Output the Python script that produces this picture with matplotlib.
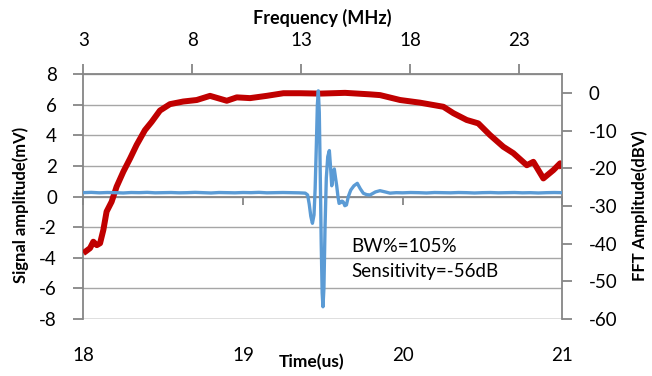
import numpy as np
import matplotlib
matplotlib.use('Agg')
import matplotlib.pyplot as plt

plt.rcParams['font.family'] = ['Lato', 'DejaVu Sans']

# time signal (us, mV)
time_us = [18.00, 18.05, 18.10, 18.15, 18.20, 18.25, 18.30, 18.35, 18.40, 18.45,
           18.50, 18.55, 18.60, 18.65, 18.70, 18.75, 18.80, 18.85, 18.90, 18.95,
           19.00, 19.05, 19.10, 19.15, 19.20, 19.25, 19.30, 19.35, 19.39, 19.405,
           19.415, 19.425, 19.435, 19.445, 19.452, 19.460, 19.466, 19.472, 19.478, 19.484,
           19.490, 19.496, 19.501, 19.507, 19.514, 19.522, 19.531, 19.541, 19.548, 19.556,
           19.564, 19.572, 19.580, 19.587, 19.595, 19.602, 19.612, 19.620, 19.628, 19.638,
           19.648, 19.660, 19.675, 19.695, 19.716, 19.735, 19.754, 19.775, 19.796, 19.830,
           19.858, 19.890, 19.921, 19.96, 20.00, 20.05, 20.10, 20.15, 20.20, 20.25,
           20.30, 20.35, 20.40, 20.45, 20.50, 20.55, 20.60, 20.65, 20.70, 20.75,
           20.80, 20.85, 20.90, 20.95, 21.00]
signal_mv = [0.25, 0.27, 0.24, 0.26, 0.25, 0.23, 0.26, 0.25, 0.27, 0.24,
             0.25, 0.26, 0.24, 0.25, 0.27, 0.25, 0.23, 0.26, 0.25, 0.24,
             0.26, 0.25, 0.27, 0.24, 0.25, 0.26, 0.25, 0.24, 0.22, 0.10,
             -0.50, -1.30, -1.75, -1.20, 0.50, 3.50, 6.00, 6.90, 5.50, 1.50,
             -3.00, -6.30, -7.20, -6.00, -2.00, 1.20, 2.60, 3.00, 2.00, 0.70,
             1.30, 1.80, 1.20, 0.70, 0.00, -0.45, -0.40, -0.30, -0.35, -0.60,
             -0.55, 0.00, 0.42, 0.70, 0.86, 0.50, 0.21, 0.12, 0.10, 0.30,
             0.38, 0.30, 0.22, 0.25, 0.24, 0.26, 0.25, 0.23, 0.26, 0.25,
             0.24, 0.26, 0.25, 0.23, 0.25, 0.26, 0.24, 0.25, 0.26, 0.24,
             0.25, 0.23, 0.25, 0.26, 0.25]

# FFT spectrum (MHz, dBV)
freq_mhz = [3.00, 3.08, 3.31, 3.46, 3.62, 3.77, 3.92, 4.07, 4.30, 4.53,
            4.84, 5.15, 5.45, 5.83, 6.14, 6.52, 6.98, 7.59, 8.21, 8.82,
            9.59, 10.05, 10.66, 11.42, 12.19, 12.95, 13.87, 15.02, 16.17, 16.63,
            17.55, 18.46, 19.54, 20.00, 20.61, 21.14, 21.68, 22.29, 22.75, 23.37,
            23.67, 24.13, 24.59, 24.90, 25.00]
fft_dbv = [-42.5, -42.2, -41.2, -39.5, -40.4, -39.9, -36.4, -31.5, -28.9, -24.9,
           -20.9, -17.4, -13.8, -9.9, -7.7, -4.7, -3.0, -2.3, -1.9, -0.8,
           -2.1, -1.2, -1.4, -0.8, -0.1, -0.1, -0.2, 0.0, -0.4, -0.6,
           -1.9, -2.6, -3.7, -5.4, -7.2, -8.1, -11.2, -14.3, -16.0, -19.2,
           -18.3, -22.7, -20.5, -18.7, -20.0]

left_ticks = [-8, -6, -4, -2, 0, 2, 4, 6, 8]
right_ticks = [-60, -50, -40, -30, -20, -10, 0]
bottom_ticks = [18, 19, 20, 21]
top_ticks = [3, 8, 13, 18, 23]

blue = '#5B9BD5'
red = '#C00000'
axis_gray = '#868686'
grid_gray = '#A6A6A6'

fig = plt.figure(figsize=(6.52, 3.76), dpi=100)
rect = [83.3/652, 1 - 319/376, (562.3 - 83.3)/652, (319 - 74)/376]

# base axes: time / mV, grid and spines
ax = fig.add_axes(rect)
ax.set_xlim(18, 21)
ax.set_ylim(-8, 8)
ax.set_yticks(left_ticks)
ax.set_yticklabels([str(v) for v in left_ticks])
ax.yaxis.grid(True, color=grid_gray, linewidth=1.0)
ax.set_axisbelow(True)
for s in ['top', 'right']:
    ax.spines[s].set_visible(False)
ax.spines['left'].set_color(axis_gray)
ax.spines['left'].set_linewidth(1.3)
ax.spines['bottom'].set_position(('data', 0))
ax.spines['bottom'].set_color(axis_gray)
ax.spines['bottom'].set_linewidth(1.3)
ax.set_xticks(bottom_ticks)
ax.tick_params(axis='x', direction='out', length=6, color=axis_gray, width=1.3,
               labelbottom=False)
ax.tick_params(axis='y', direction='out', length=7, color=axis_gray, width=1.3,
               labelsize=13.5, pad=12)
ax.axhline(-8, color=grid_gray, linewidth=1.0, zorder=0)

# bottom tick labels placed below the plot area
sec = ax.secondary_xaxis('bottom')
sec.set_xticks(bottom_ticks)
sec.set_xticklabels([str(v) for v in bottom_ticks])
sec.tick_params(length=0, labelsize=13.5, pad=20)
sec.spines['bottom'].set_visible(False)

# spectrum axes: frequency (top) / dBV (right)
ax_r = fig.add_axes(rect)
ax_r.patch.set_visible(False)
ax_r.plot(freq_mhz, fft_dbv, color=red, linewidth=4.3, solid_capstyle='butt')
ax_r.set_xlim(3, 25)
ax_r.set_ylim(-60, 5)
ax_r.xaxis.tick_top()
ax_r.yaxis.tick_right()
ax_r.set_xticks(top_ticks)
ax_r.set_xticklabels([str(v) for v in top_ticks])
ax_r.set_yticks(right_ticks)
ax_r.set_yticklabels([str(v) for v in right_ticks])
for s in ['left', 'bottom']:
    ax_r.spines[s].set_visible(False)
for s in ['top', 'right']:
    ax_r.spines[s].set_color(axis_gray)
    ax_r.spines[s].set_linewidth(1.3)
ax_r.tick_params(axis='x', direction='out', length=7, color=axis_gray, width=1.3,
                 labelsize=13.5, pad=11)
ax_r.tick_params(axis='y', direction='out', length=7, color=axis_gray, width=1.3,
                 labelsize=13.5, pad=12)

# time signal on top
ax_b = fig.add_axes(rect, sharex=ax, sharey=ax)
ax_b.patch.set_visible(False)
ax_b.axis('off')
ax_b.plot(time_us, signal_mv, color=blue, linewidth=2.4)
ax_b.text(19.68, -3.28, 'BW%=105%', fontsize=13.5, va='center', ha='left')
ax_b.text(19.68, -4.91, 'Sensitivity=-56dB', fontsize=13.5, va='center', ha='left')

fig.text(322/652, 1 - 18/376, 'Frequency (MHz)', fontsize=13, fontweight='bold',
         ha='center', va='center')
fig.text(312/652, 1 - 362/376, 'Time(us)', fontsize=12.5, fontweight='bold',
         ha='center', va='center')
fig.text(21/652, 1 - 205/376, 'Signal amplitude(mV)', fontsize=12, fontweight='bold',
         ha='center', va='center', rotation=90)
fig.text(640/652, 1 - 206/376, 'FFT Amplitude(dBV)', fontsize=12, fontweight='bold',
         ha='center', va='center', rotation=90)

fig.savefig('out.png', dpi=100)
